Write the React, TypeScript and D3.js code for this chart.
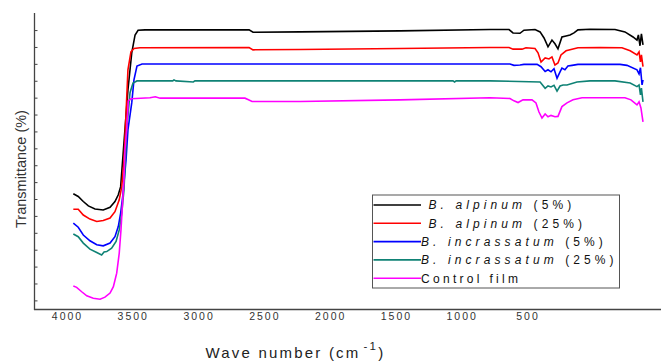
import React from "react";
import * as d3 from "d3";

// FTIR spectra, [wavenumber cm-1, transmittance (arb.)]
const alpinum5: [number, number][] = [
  [3998, 36.7], [3967, 35.9], [3935, 34.4], [3903, 33.1], [3861, 32.2], [3809, 31.9],
  [3766, 32.7], [3735, 34.4], [3714, 36.4], [3699, 38.8], [3672, 55.6], [3653, 67.4],
  [3629, 78.4], [3608, 83.7], [3589, 85.1], [3545, 85.2], [2888, 85.2], [2863, 84.5],
  [2566, 84.6], [1935, 84.9], [1366, 85.3], [1246, 85.3], [1221, 84.3], [1177, 84.2],
  [1152, 85.1], [1082, 85.3], [1050, 84.6], [1025, 82.8], [1000, 80.2], [975, 82.2],
  [956, 81.1], [937, 79.6], [912, 83.1], [886, 83.4], [861, 83.7], [836, 84.3],
  [811, 85.2], [735, 85.4], [577, 85.3], [514, 84.6], [463, 83.1], [438, 82.2],
  [429, 83.7], [419, 80.5], [410, 84.0], [400, 80.8],
];
const alpinum25: [number, number][] = [
  [3998, 32.1], [3967, 32.1], [3935, 30.4], [3893, 29.2], [3850, 28.5], [3809, 28.8],
  [3766, 29.5], [3735, 31.4], [3708, 34.9], [3692, 38.8], [3678, 46.7], [3653, 73.4],
  [3634, 78.7], [3615, 79.7], [3577, 79.9], [2888, 80.0], [2863, 79.3], [2566, 79.4],
  [1935, 79.7], [1366, 80.0], [1246, 80.0], [1221, 79.5], [1164, 79.5], [1139, 79.9],
  [1082, 79.7], [1063, 78.4], [1044, 75.7], [1018, 76.9], [994, 76.6], [975, 77.2],
  [956, 74.8], [937, 75.4], [918, 77.8], [886, 79.0], [861, 79.3], [811, 79.9],
  [670, 80.0], [533, 79.9], [481, 79.0], [438, 77.8], [425, 78.7], [416, 75.7],
  [410, 77.8], [400, 74.3],
];
const incrassatum5: [number, number][] = [
  [3998, 28.0], [3967, 26.8], [3935, 24.5], [3893, 22.8], [3850, 21.6], [3809, 21.3],
  [3766, 22.1], [3735, 24.0], [3714, 27.0], [3699, 31.0], [3686, 35.9], [3665, 46.7],
  [3653, 55.6], [3629, 63.6], [3615, 70.4], [3596, 74.5], [3564, 75.1], [1366, 75.1],
  [1240, 75.1], [1215, 74.7], [1177, 74.8], [1152, 75.0], [1069, 75.0], [1044, 74.3],
  [1018, 72.9], [1000, 73.4], [981, 72.8], [962, 73.7], [943, 70.9], [924, 72.8],
  [912, 73.9], [893, 73.4], [874, 74.5], [848, 74.7], [811, 75.0], [545, 75.0],
  [501, 74.7], [438, 73.4], [425, 72.2], [416, 74.0], [406, 68.9], [400, 70.4],
];
const incrassatum25: [number, number][] = [
  [3998, 24.8], [3967, 24.0], [3935, 22.1], [3893, 20.3], [3850, 19.3], [3819, 18.6],
  [3804, 19.5], [3787, 19.6], [3756, 20.6], [3728, 22.6], [3708, 26.0], [3692, 31.0],
  [3678, 37.9], [3661, 55.6], [3640, 66.6], [3621, 69.5], [3596, 70.1], [3370, 70.1],
  [3362, 70.4], [3350, 70.1], [3240, 69.8], [3230, 70.1], [2566, 70.1], [1600, 70.1],
  [1590, 69.8], [1580, 70.1], [1366, 70.1], [1050, 69.8], [1018, 67.9], [1000, 68.6],
  [981, 68.3], [962, 68.8], [943, 67.1], [924, 68.6], [905, 68.9], [880, 68.9],
  [817, 69.8], [735, 70.1], [577, 70.1], [481, 69.5], [438, 68.4], [425, 68.9],
  [416, 66.0], [410, 68.0], [400, 63.9],
];
const controlFilm: [number, number][] = [
  [3998, 9.4], [3977, 9.0], [3945, 7.7], [3913, 6.5], [3872, 5.8], [3829, 5.5],
  [3798, 6.1], [3766, 7.3], [3745, 9.2], [3724, 13.2], [3708, 19.1], [3697, 26.0],
  [3686, 34.9], [3678, 40.8], [3672, 49.7], [3661, 55.6], [3651, 64.2], [3634, 64.8],
  [3602, 64.9], [3514, 65.1], [3480, 65.4], [3450, 65.0], [2914, 65.0], [2895, 64.6],
  [2869, 64.0], [2566, 64.0], [1935, 64.5], [1366, 65.1], [1240, 64.9], [1215, 64.2],
  [1189, 63.7], [1158, 64.5], [1101, 64.5], [1076, 63.6], [1057, 60.9], [1038, 59.1],
  [1018, 60.3], [1000, 59.5], [981, 59.9], [956, 59.5], [937, 59.6], [912, 62.5],
  [880, 63.6], [842, 64.5], [785, 65.1], [514, 65.1], [476, 64.5], [438, 63.0],
  [425, 63.9], [413, 62.1], [400, 58.0],
];

const series = [alpinum5, alpinum25, incrassatum5, incrassatum25, controlFilm];
const legendItalic = [" B. alpinum", " B. alpinum", "B. incrassatum", "B. incrassatum", ""];
const legendPlain = [" (5%)", " (25%)", " (5%)", " (25%)", "Control film"];
const colors = ["#000000", "#ff0000", "#0000ff", "#0f8275", "#ff00ff"];

const xTickLabels = [4000, 3500, 3000, 2500, 2000, 1500, 1000, 500];

const W = 663;
const H = 363;

export default function App() {
  // curves
  const x = d3.scaleLinear().domain([4000, 400]).range([73, 643]);
  const y = d3.scaleLinear().domain([2.3, 90.2]).range([310, 13]);
  // tick labels of the original figure are offset from the data
  const xLab = d3.scaleLinear().domain([4000, 500]).range([66.5, 527]);
  const yTicks = d3.range(5, 86, 5);

  const line = d3
    .line<[number, number]>()
    .x((d) => x(d[0]))
    .y((d) => y(d[1]));

  const font = "'Liberation Sans', Arial, sans-serif";
  const lgX = 372.5;
  const lgY = 195;
  const rowH = 18.3;

  return (
    <svg
      width={W}
      height={H}
      style={{ position: "fixed", left: 0, top: 0, background: "#fff" }}
      fontFamily={font}
    >
      {series.map((s, i) => (
        <path key={i} d={line(s) || ""} fill="none" stroke={colors[i]} strokeWidth={1.6} />
      ))}

      {/* axes */}
      <line x1={34.5} x2={34.5} y1={13} y2={310} stroke="#444" strokeWidth={1.3} />
      <line x1={34} x2={661} y1={309.5} y2={309.5} stroke="#444" strokeWidth={1.3} />
      {yTicks.map((t) => (
        <line key={t} x1={34.5} x2={37.5} y1={y(t)} y2={y(t)} stroke="#444" strokeWidth={1} />
      ))}
      {xTickLabels.map((t) => (
        <text
          key={t}
          x={xLab(t) + 1}
          y={320}
          textAnchor="middle"
          fontSize={10.5}
          letterSpacing={2}
          fill="#333"
        >
          {t}
        </text>
      ))}

      <text x={205.5} y={358} fontSize={15} letterSpacing={2.2} fill="#222">
        Wave number (cm
        <tspan fontSize={11.5} dx={3} dy={-8}>-1</tspan>
        <tspan dy={8}>)</tspan>
      </text>
      <text
        transform={`translate(25.5,169) rotate(-90)`}
        textAnchor="middle"
        fontSize={14.5}
        fill="#333"
      >
        Transmittance (%)
      </text>

      {/* legend */}
      <rect x={lgX} y={lgY} width={247} height={93} fill="#fff" stroke="#555" strokeWidth={1} />
      {series.map((_, i) => {
        const cy = lgY + 10 + i * rowH;
        return (
          <g key={i}>
            <line x1={lgX + 1} x2={lgX + 48.5} y1={cy} y2={cy} stroke={colors[i]} strokeWidth={1.6} />
            <text
              x={lgX + 48.5}
              y={cy + 4.3}
              fontSize={12}
              letterSpacing={legendItalic[i] ? 4.1 : 3.3}
              fill="#111"
              style={{ whiteSpace: "pre" }}
            >
              <tspan fontStyle="italic">{legendItalic[i]}</tspan>
              {legendPlain[i]}
            </text>
          </g>
        );
      })}
    </svg>
  );
}
